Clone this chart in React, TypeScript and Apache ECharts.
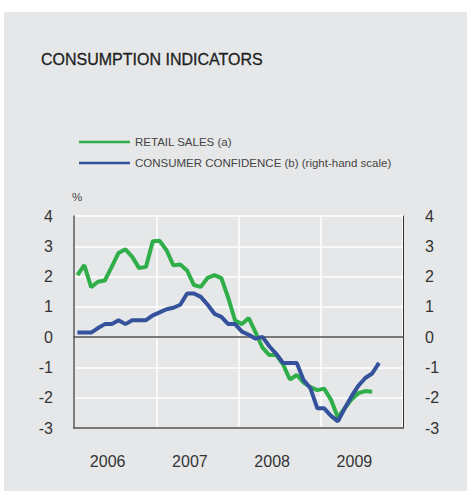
import React, { useEffect, useRef } from "react";
import * as echarts from "echarts";

const TITLE = "CONSUMPTION INDICATORS";
const years = ["2006", "2007", "2008", "2009"];
const months = years.flatMap((y) =>
  ["01", "02", "03", "04", "05", "06", "07", "08", "09", "10", "11", "12"].map((m) => `${y}-${m}`)
);
const yTicksMin = -3;
const yTicksMax = 4;

const retailSalesName = "RETAIL SALES (a)";
const retailSales = [
  2.05, 2.38, 1.65, 1.83, 1.87, 2.32, 2.78, 2.9, 2.65, 2.28, 2.32, 3.17,
  3.18, 2.87, 2.37, 2.4, 2.2, 1.72, 1.66, 1.96, 2.05, 1.95, 1.3, 0.55,
  0.43, 0.63, 0.15, -0.35, -0.59, -0.59, -0.9, -1.4, -1.25, -1.5, -1.65, -1.75,
  -1.7, -2.07, -2.65, -2.35, -2.05, -1.85, -1.78, -1.8,
];

const confidenceName = "CONSUMER CONFIDENCE (b) (right-hand scale)";
const consumerConfidence = [
  0.15, 0.15, 0.15, 0.3, 0.43, 0.43, 0.56, 0.43, 0.56, 0.56, 0.56, 0.72,
  0.82, 0.92, 0.97, 1.07, 1.44, 1.44, 1.33, 1.07, 0.77, 0.67, 0.43, 0.43,
  0.18, 0.08, -0.05, 0.01, -0.3, -0.55, -0.85, -0.85, -0.85, -1.42, -1.69, -2.35,
  -2.35, -2.6, -2.78, -2.35, -1.95, -1.6, -1.35, -1.2, -0.85,
];

const GREEN = "#2fae4a";
const BLUE = "#34519b";
const FONT = '"Liberation Sans", Arial, Helvetica, sans-serif';

export default function App() {
  const ref = useRef<HTMLDivElement>(null);
  useEffect(() => {
    if (!ref.current) return;
    const chart = echarts.init(ref.current, null, { renderer: "svg" });
    chart.setOption({
      animation: false,
      backgroundColor: "transparent",
      textStyle: { fontFamily: FONT },
      graphic: [
        {
          type: "text",
          x: 41,
          y: 59,
          style: {
            text: TITLE,
            font: `16px ${FONT}`,
            fill: "#1e1e1e",
            stroke: "#1e1e1e",
            lineWidth: 0.3,
            verticalAlign: "middle",
          },
        },
      ],
      legend: {
        left: 74,
        top: 130,
        orient: "vertical",
        icon: "rect",
        itemWidth: 51,
        itemHeight: 2.5,
        itemGap: 7,
        textStyle: { fontSize: 11.5, color: "#444", lineHeight: 14 },
        data: [retailSalesName, confidenceName],
      },
      grid: { left: 74, right: 64, top: 216, bottom: 64 },
      xAxis: [
        {
          type: "category",
          data: months,
          boundaryGap: true,
          position: "bottom",
          axisLine: { show: true, onZero: true, lineStyle: { color: "#4d4d4d", width: 1.5 } },
          axisTick: { show: false },
          axisLabel: { show: false },
          splitLine: {
            show: true,
            interval: (i: number) => i % 12 === 0,
            lineStyle: { color: "#ffffff", width: 1.5 },
          },
        },
        {
          type: "category",
          data: years,
          boundaryGap: true,
          position: "bottom",
          axisLine: { show: true, onZero: false, lineStyle: { color: "#4d4d4d", width: 1.5 } },
          axisTick: { show: false },
          axisLabel: { fontSize: 16, color: "#333", margin: 25, padding: [0, 15, 0, 0] },
          splitLine: { show: false },
        },
      ],
      yAxis: [
        {
          type: "value",
          min: yTicksMin,
          max: yTicksMax,
          interval: 1,
          position: "left",
          name: "%",
          nameLocation: "end",
          nameGap: 19,
          nameTextStyle: { fontSize: 11.5, color: "#444", align: "left", verticalAlign: "middle", padding: [0, 0, 0, -2] },
          axisLine: { show: true, onZero: false, lineStyle: { color: "#555", width: 1.5 } },
          axisTick: { show: false },
          axisLabel: { fontSize: 16, color: "#333", margin: 21 },
          splitLine: { show: true, lineStyle: { color: "#ffffff", width: 1.5 } },
        },
        {
          type: "value",
          min: yTicksMin,
          max: yTicksMax,
          interval: 1,
          position: "right",
          axisLine: { show: true, onZero: false, lineStyle: { color: "#333", width: 1 } },
          axisTick: { show: false },
          axisLabel: { fontSize: 16, color: "#333", margin: 22 },
          splitLine: { show: false },
        },
      ],
      series: [
        {
          name: retailSalesName,
          type: "line",
          xAxisIndex: 0,
          yAxisIndex: 0,
          data: retailSales,
          symbol: "none",
          color: GREEN,
          lineStyle: { color: GREEN, width: 4 },
        },
        {
          name: confidenceName,
          type: "line",
          xAxisIndex: 0,
          yAxisIndex: 1,
          data: consumerConfidence,
          symbol: "none",
          color: BLUE,
          lineStyle: { color: BLUE, width: 4 },
        },
      ],
    });
    return () => chart.dispose();
  }, []);

  return (
    <div style={{ position: "fixed", left: 0, top: 0, width: 467, height: 492, background: "#fff" }}>
      <div style={{ position: "absolute", left: 4, top: 12, width: 463, height: 479, background: "#e6e7e8" }} />
      <div ref={ref} style={{ position: "absolute", left: 0, top: 0, width: 467, height: 492 }} />
    </div>
  );
}
